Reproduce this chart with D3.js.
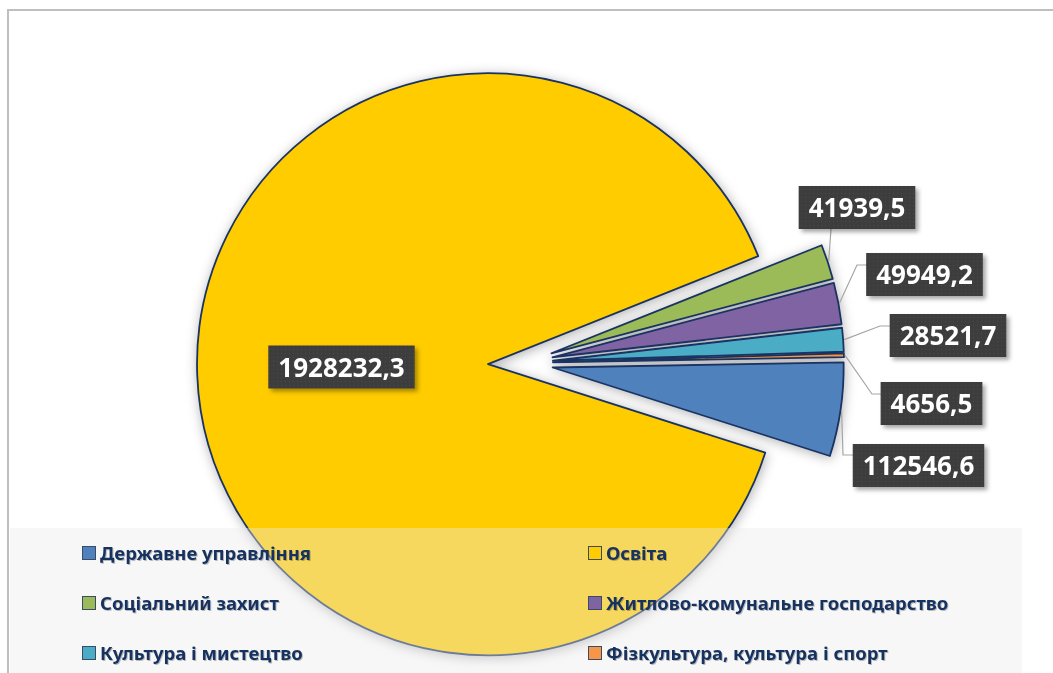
<!DOCTYPE html>
<html><head><meta charset="utf-8">
<script src="https://cdn.jsdelivr.net/npm/d3@7/dist/d3.min.js"></script>
<style>
html,body{margin:0;padding:0;background:#fff;}
svg{display:block;}
</style></head>
<body>
<svg id="chart" width="1053" height="673"></svg>
<script>
// ---- data ----
const categories = ["Державне управління","Освіта","Соціальний захист","Житлово-комунальне господарство","Культура і мистецтво","Фізкультура, культура і спорт"];
const values = [112546.6, 1928232.3, 41939.5, 49949.2, 28521.7, 4656.5];
const colors = ["#4f81bd","#ffcc00","#9bbb59","#8064a2","#4bacc6","#f79646"];

// ---- layout (not data) ----
const W = 1053, H = 673;
const center = [522, 363];
const R = 291;
const startDeg = 89;
const explode = [31, 34, 31, 31, 31, 31];
// label box centres and leader elbows
const labelPos = [
  {cx: 918.5, cy: 465.5, elbow: [843, 455], end: [853, 455]},
  {cx: 341.5, cy: 367, elbow: null},
  {cx: 857,   cy: 207.5, elbow: [831, 229], end: [831, 229]},
  {cx: 924.5, cy: 274.5, elbow: [857, 265], end: [867, 265]},
  {cx: 948,   cy: 335.5, elbow: [880, 326], end: [890, 326]},
  {cx: 931.5, cy: 403.5, elbow: [872, 394], end: [882, 394]}
];

const svg = d3.select("#chart");
const defs = svg.append("defs");
const sh = defs.append("filter").attr("id","pieShadow").attr("x","-20%").attr("y","-20%").attr("width","140%").attr("height","140%");
sh.append("feDropShadow").attr("dx",1).attr("dy",2).attr("stdDeviation",6).attr("flood-color","#000").attr("flood-opacity",0.3);
const bs = defs.append("filter").attr("id","boxShadow").attr("x","-20%").attr("y","-30%").attr("width","150%").attr("height","170%");
bs.append("feDropShadow").attr("dx",3).attr("dy",3).attr("stdDeviation",2).attr("flood-color","#000").attr("flood-opacity",0.35);
const ts = defs.append("filter").attr("id","txtShadow");
ts.append("feDropShadow").attr("dx",1).attr("dy",1).attr("stdDeviation",0.6).attr("flood-color","#000").attr("flood-opacity",0.25);
const pat = defs.append("pattern").attr("id","dots").attr("width",4).attr("height",4).attr("patternUnits","userSpaceOnUse");
pat.append("rect").attr("width",4).attr("height",4).attr("fill","#3d3d3d");
pat.append("rect").attr("x",1).attr("y",1).attr("width",1).attr("height",1).attr("fill","#4c4c4c");

svg.append("rect").attr("width",W).attr("height",H).attr("fill","#fff");

const fmt = d3.formatLocale({decimal: ",", thousands: "", grouping: [3], currency: ["",""]}).format(".1f");

const pie = d3.pie().sort(null).value(d => d)
  .startAngle(startDeg * Math.PI / 180)
  .endAngle(startDeg * Math.PI / 180 + 2 * Math.PI);
const arcs = pie(values);
const arc = d3.arc().innerRadius(0).outerRadius(R);

function dir(a){ return [Math.sin(a), -Math.cos(a)]; }
arcs.forEach((a,i) => {
  a.mid = (a.startAngle + a.endAngle) / 2;
  const d = dir(a.mid);
  a.off = [center[0] + explode[i]*d[0], center[1] + explode[i]*d[1]];
});

const pieG = svg.append("g").attr("filter","url(#pieShadow)");
pieG.selectAll("path").data(arcs).join("path")
  .attr("transform", d => `translate(${d.off[0]},${d.off[1]})`)
  .attr("d", arc)
  .attr("fill", (d,i) => colors[i])
  .attr("stroke", "#1a3360")
  .attr("stroke-width", 1.8)
  .attr("stroke-linejoin","round");

// legend background (semi-transparent, over the pie)
const legendTop = 528, legendLeft = 10, legendRight = 1022;
svg.append("rect").attr("x",legendLeft).attr("y",legendTop)
  .attr("width",legendRight-legendLeft).attr("height",H-legendTop)
  .attr("fill","#ebebeb").attr("fill-opacity",0.4);

// leader lines
const leaderG = svg.append("g");
arcs.forEach((a,i) => {
  const lp = labelPos[i];
  if (!lp.elbow) return;
  const d = dir(a.mid);
  const p0 = [a.off[0] + (R+1)*d[0], a.off[1] + (R+1)*d[1]];
  leaderG.append("path")
    .attr("d", d3.line()([p0, lp.elbow, lp.end]))
    .attr("fill","none").attr("stroke","#a6a6a6").attr("stroke-width",1.2);
});

// data labels
const labG = svg.append("g");
arcs.forEach((a,i) => {
  const lp = labelPos[i];
  const g = labG.append("g");
  const t = g.append("text")
    .attr("x", lp.cx).attr("y", lp.cy + 9.5)
    .attr("text-anchor","middle")
    .attr("font-family","'Noto Sans', 'Open Sans', sans-serif")
    .attr("font-weight","bold").attr("font-size",26)
    .attr("fill","#fff")
    .text(fmt(values[i]));
  const w = t.node().getComputedTextLength() + 20;
  g.insert("rect","text")
    .attr("x", lp.cx - w/2).attr("y", lp.cy - 21.5)
    .attr("width", w).attr("height", 43)
    .attr("fill","url(#dots)")
    .attr("filter","url(#boxShadow)");
});

// legend
const legX = [82, 588], legY = [553, 603, 653];
const legG = svg.append("g");
categories.forEach((c,i) => {
  const x = legX[i % 2], y = legY[Math.floor(i/2)];
  legG.append("rect").attr("x",x+0.5).attr("y",y-6.5).attr("width",13).attr("height",13)
    .attr("fill",colors[i]).attr("stroke","#3b4a66").attr("stroke-width",1);
  legG.append("text").attr("x",x+18).attr("y",y+7)
    .attr("font-family","'Noto Sans', 'Open Sans', sans-serif")
    .attr("font-weight","bold").attr("font-size",18.5)
    .attr("fill","#17305e")
    .attr("filter","url(#txtShadow)")
    .text(c);
});

// outer border (top and left visible)
svg.append("line").attr("x1",8).attr("x2",W).attr("y1",10).attr("y2",10).attr("stroke","#bfbfbf").attr("stroke-width",2);
svg.append("line").attr("x1",8).attr("x2",8).attr("y1",9).attr("y2",H).attr("stroke","#bfbfbf").attr("stroke-width",2);
</script>
</body></html>
